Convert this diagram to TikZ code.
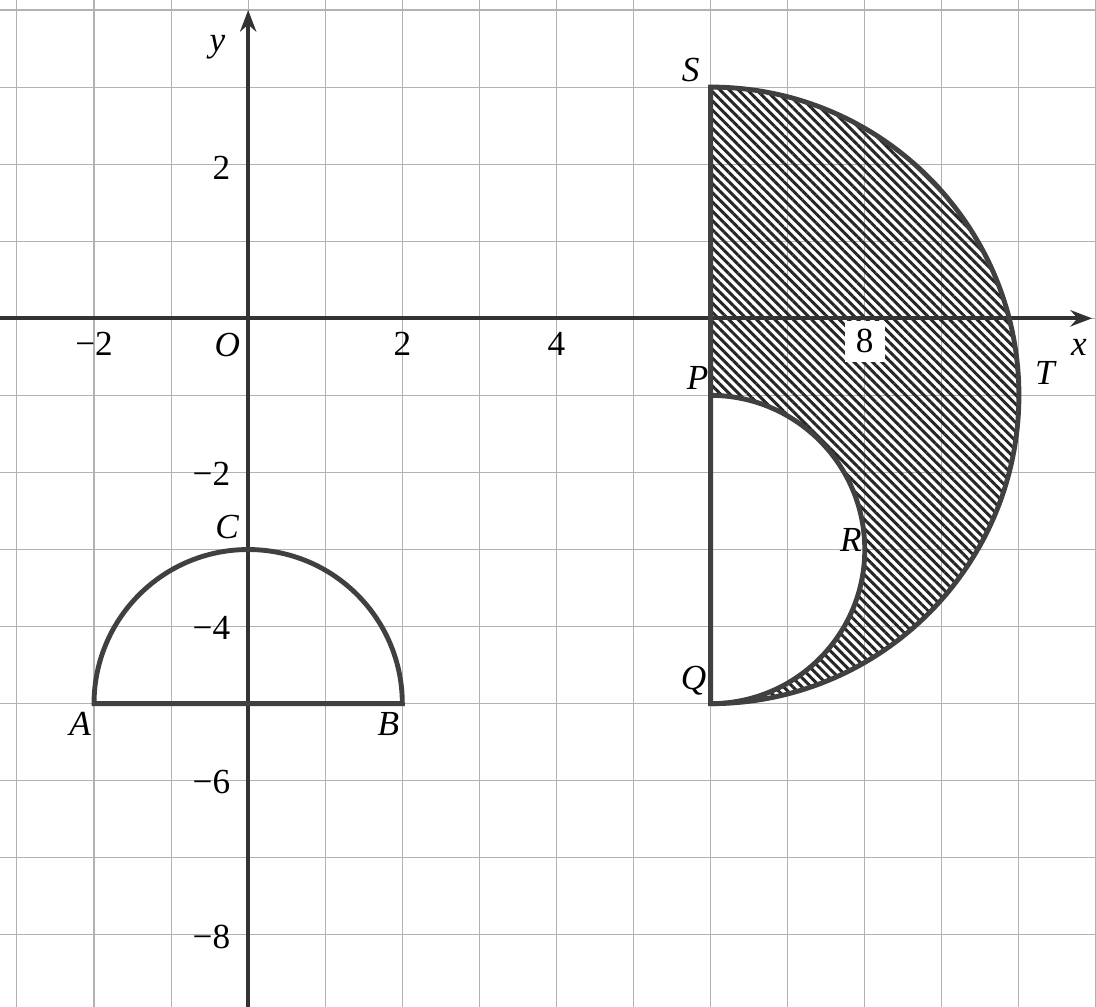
\documentclass[tikz,border=0pt]{standalone}
\usepackage{fontspec}
\setmainfont{Liberation Serif}
\usetikzlibrary{calc,arrows.meta,patterns.meta}

\begin{document}
\begin{tikzpicture}[font=\fontsize{13}{15}\selectfont,
    gridline/.style={black!30, line width=0.4pt},
    axis/.style={black!80, line width=1.4pt},
    outline/.style={black!75, line width=1.8pt},
    hatch/.style={pattern={Lines[angle=-45,distance=2.4pt,line width=1.1pt]}, pattern color=black!85}]
    \useasboundingbox (-3.22,-8.93) rectangle (11,4.13);

    \coordinate (A) at (-2,-5);
    \coordinate (B) at (2,-5);
    \coordinate (C) at (0,-3);
    \coordinate (S) at (6,3);
    \coordinate (P) at (6,-1);
    \coordinate (Q) at (6,-5);
    \coordinate (R) at (8,-3);
    \coordinate (T) at (10,-1);
    \coordinate (xend) at (10.95,0);
    \coordinate (yend) at (0,4.0);

    \draw[gridline] (-3.22,-8.93) grid (11,4.13);

    % shaded region
    \fill[hatch] (S) arc[start angle=90,end angle=-90,radius=4]
        arc[start angle=-90,end angle=90,radius=2] -- cycle;

    \draw[axis,-{Stealth[length=8pt,width=6pt]}] (-3.22,0) -- (xend);
    \draw[axis,-{Stealth[length=8pt,width=6pt]}] (0,-8.93) -- (yend);

    \draw[outline] (S) arc[start angle=90,end angle=-90,radius=4] -- cycle;
    \draw[outline] (Q) arc[start angle=-90,end angle=90,radius=2];
    \draw[outline] (A) arc[start angle=180,end angle=0,radius=2] -- cycle;

    \node (xlabel) at ($(xend)+(-0.17,-0.38)$) {\textit{x}};
    \node (ylabel) at ($(yend)+(-0.4,-0.48)$) {\textit{y}};
    \node (origin) at (-0.27,-0.35) {\textit{O}};

    \node (xm2) at (-2,-0.33) {−2};
    \node (xp2) at (2,-0.33) {2};
    \node (xp4) at (4,-0.33) {4};
    \node[fill=white, minimum width=0.52cm, minimum height=0.54cm] (xp8) at (8,-0.3) {8};

    \node[anchor=east] (yp2) at (-0.11,1.95) {2};
    \node[anchor=east] (ym2) at (-0.11,-2.02) {−2};
    \node[anchor=east] (ym4) at (-0.11,-4.02) {−4};
    \node[anchor=east] (ym6) at (-0.11,-6.02) {−6};
    \node[anchor=east] (ym8) at (-0.11,-8.03) {−8};

    \node (lblA) at ($(A)+(-0.18,-0.26)$) {\textit{A}};
    \node (lblB) at ($(B)+(-0.18,-0.26)$) {\textit{B}};
    \node (lblC) at ($(C)+(-0.27,0.29)$) {\textit{C}};
    \node (lblS) at ($(S)+(-0.26,0.22)$) {\textit{S}};
    \node (lblP) at ($(P)+(-0.17,0.23)$) {\textit{P}};
    \node (lblQ) at ($(Q)+(-0.22,0.3)$) {\textit{Q}};
    \node (lblR) at ($(R)+(-0.18,0.12)$) {\textit{R}};
    \node (lblT) at ($(T)+(0.35,0.29)$) {\textit{T}};
\end{tikzpicture}
\end{document}
